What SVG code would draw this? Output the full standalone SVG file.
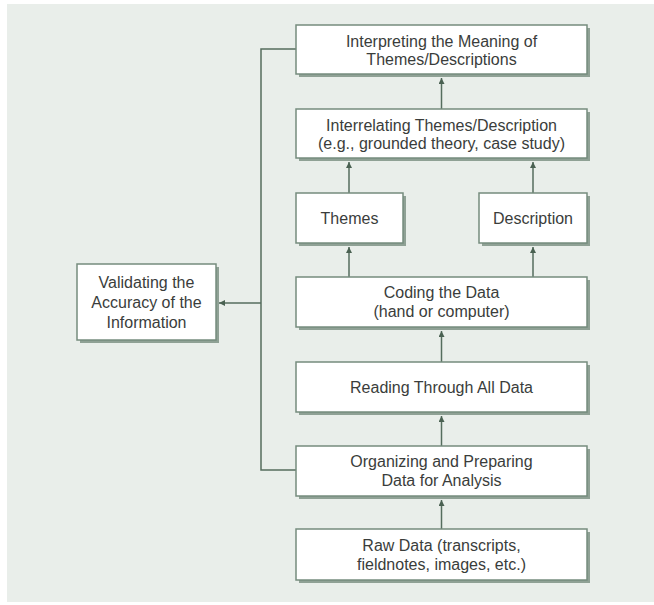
<svg xmlns="http://www.w3.org/2000/svg" width="654" height="605" viewBox="0 0 654 605">
<defs>
<style>
.shadow{fill:#8fa195;}
.box{fill:#ffffff;stroke:#768c7e;stroke-width:1.5;}
.lbl{font-family:"Liberation Sans",Arial,sans-serif;font-size:16px;fill:#3a3d3b;text-anchor:middle;}
.conn{fill:none;stroke:#556d5e;stroke-width:1.5;}
</style>
<marker id="ah" markerWidth="8" markerHeight="8" refX="6" refY="3" orient="auto" markerUnits="userSpaceOnUse">
<path d="M0,0 L6,3 L0,6 z" fill="#4a6152"/>
</marker>
</defs>
<rect x="0" y="0" width="654" height="605" fill="#ffffff"/>
<rect x="7" y="4" width="647" height="598" fill="#e9eeea"/>

<g id="connectors">
<line class="conn" x1="441.5" y1="109" x2="441.5" y2="78" marker-end="url(#ah)"/>
<line class="conn" x1="349" y1="193" x2="349" y2="162" marker-end="url(#ah)"/>
<line class="conn" x1="533" y1="193" x2="533" y2="162" marker-end="url(#ah)"/>
<line class="conn" x1="349" y1="277" x2="349" y2="247" marker-end="url(#ah)"/>
<line class="conn" x1="533" y1="277" x2="533" y2="247" marker-end="url(#ah)"/>
<line class="conn" x1="441.5" y1="362" x2="441.5" y2="331" marker-end="url(#ah)"/>
<line class="conn" x1="441.5" y1="446" x2="441.5" y2="416" marker-end="url(#ah)"/>
<line class="conn" x1="441.5" y1="529" x2="441.5" y2="500" marker-end="url(#ah)"/>
<polyline class="conn" points="296,49 261,49 261,470 296,470"/>
<line class="conn" x1="261" y1="303" x2="219" y2="303" marker-end="url(#ah)"/>
</g>

<g id="interpreting">
<rect class="shadow" x="299" y="28" width="291" height="49"/>
<rect class="box" x="296" y="25" width="291" height="49"/>
<text class="lbl" x="441.5" y="47">Interpreting the Meaning of</text>
<text class="lbl" x="441.5" y="65">Themes/Descriptions</text>
</g>

<g id="interrelating">
<rect class="shadow" x="299" y="112" width="291" height="49"/>
<rect class="box" x="296" y="109" width="291" height="49"/>
<text class="lbl" x="441.5" y="131">Interrelating Themes/Description</text>
<text class="lbl" x="441.5" y="149">(e.g., grounded theory, case study)</text>
</g>

<g id="themes">
<rect class="shadow" x="299" y="196" width="107" height="50"/>
<rect class="box" x="296" y="193" width="107" height="50"/>
<text class="lbl" x="349.5" y="224">Themes</text>
</g>

<g id="description">
<rect class="shadow" x="482" y="196" width="108" height="50"/>
<rect class="box" x="479" y="193" width="108" height="50"/>
<text class="lbl" x="533" y="224">Description</text>
</g>

<g id="validating">
<rect class="shadow" x="80" y="267" width="139" height="76"/>
<rect class="box" x="77" y="264" width="139" height="76"/>
<text class="lbl" x="146.5" y="288">Validating the</text>
<text class="lbl" x="146.5" y="308">Accuracy of the</text>
<text class="lbl" x="146.5" y="328">Information</text>
</g>

<g id="coding">
<rect class="shadow" x="299" y="280" width="291" height="50"/>
<rect class="box" x="296" y="277" width="291" height="50"/>
<text class="lbl" x="441.5" y="298">Coding the Data</text>
<text class="lbl" x="441.5" y="317">(hand or computer)</text>
</g>

<g id="reading">
<rect class="shadow" x="299" y="365" width="291" height="50"/>
<rect class="box" x="296" y="362" width="291" height="50"/>
<text class="lbl" x="441.5" y="393">Reading Through All Data</text>
</g>

<g id="organizing">
<rect class="shadow" x="299" y="449" width="291" height="50"/>
<rect class="box" x="296" y="446" width="291" height="50"/>
<text class="lbl" x="441.5" y="467">Organizing and Preparing</text>
<text class="lbl" x="441.5" y="486">Data for Analysis</text>
</g>

<g id="raw">
<rect class="shadow" x="299" y="532" width="291" height="51"/>
<rect class="box" x="296" y="529" width="291" height="51"/>
<text class="lbl" x="441.5" y="551">Raw Data (transcripts,</text>
<text class="lbl" x="441.5" y="570">fieldnotes, images, etc.)</text>
</g>
</svg>
